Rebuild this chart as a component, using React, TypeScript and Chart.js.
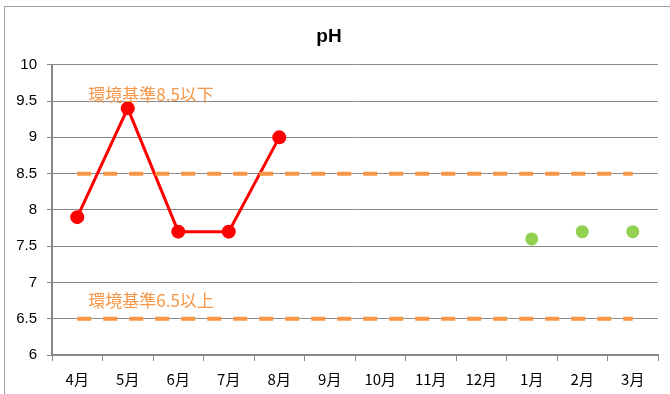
import React, { useEffect, useRef } from "react";
import { Chart, registerables } from "chart.js";

Chart.register(...registerables);

const months = ["4月", "5月", "6月", "7月", "8月", "9月", "10月", "11月", "12月", "1月", "2月", "3月"];
const phSeriesA = [7.9, 9.4, 7.7, 7.7, 9.0, null, null, null, null, null, null, null];
const phSeriesB = [null, null, null, null, null, null, null, null, null, 7.6, 7.7, 7.7];
const upperLimit = [8.5, 8.5, 8.5, 8.5, 8.5, 8.5, 8.5, 8.5, 8.5, 8.5, 8.5, 8.5];
const lowerLimit = [6.5, 6.5, 6.5, 6.5, 6.5, 6.5, 6.5, 6.5, 6.5, 6.5, 6.5, 6.5];
const limitLabels = ["環境基準8.5以下", "環境基準6.5以上"];
const limitLabelValues = [9.59, 6.75];

const ORANGE = "#f79646";

const labelPlugin = {
  id: "limitLabels",
  afterDatasetsDraw(chart: any) {
    const { ctx, scales } = chart;
    const x0 = scales.x.getPixelForValue(0);
    ctx.save();
    ctx.fillStyle = ORANGE;
    ctx.font = "17px 'Noto Sans CJK JP', sans-serif";
    ctx.textAlign = "left";
    ctx.textBaseline = "middle";
    limitLabels.forEach((t, i) => {
      ctx.fillText(t, x0 + 11, scales.y.getPixelForValue(limitLabelValues[i]));
    });
    ctx.restore();
  },
};

export default function App() {
  const ref = useRef<HTMLCanvasElement>(null);
  useEffect(() => {
    const chart = new Chart(ref.current!, {
      type: "line",
      data: {
        labels: months,
        datasets: [
          {
            data: upperLimit,
            borderColor: ORANGE,
            borderWidth: 4,
            borderDash: [14, 12],
            pointRadius: 0,
            order: 0,
          },
          {
            data: lowerLimit,
            borderColor: ORANGE,
            borderWidth: 4,
            borderDash: [14, 12],
            pointRadius: 0,
            order: 0,
          },
          {
            data: phSeriesA,
            borderColor: "#ff0000",
            backgroundColor: "#ff0000",
            borderWidth: 3,
            pointRadius: 7,
            pointBorderWidth: 0,
            order: 1,
          },
          {
            data: phSeriesB,
            borderColor: "#92d050",
            backgroundColor: "#92d050",
            showLine: false,
            pointRadius: 6.5,
            pointBorderWidth: 0,
            order: 1,
          },
        ],
      },
      options: {
        responsive: false,
        animation: false,
        layout: { padding: { left: 0, right: 12, top: 0, bottom: 0 } },
        plugins: {
          legend: { display: false },
          tooltip: { enabled: false },
          title: {
            display: true,
            text: "pH",
            color: "#000",
            font: { size: 19, weight: "bold", family: "'Liberation Sans', Arial, sans-serif" },
            padding: { top: 25, bottom: 17 },
          },
        },
        scales: {
          x: {
            offset: true,
            grid: {
              offset: true,
              drawOnChartArea: false,
              tickLength: 6,
              color: "#888",
            },
            border: { color: "#888", width: 2 },
            ticks: {
              color: "#000",
              padding: 9,
              maxRotation: 0,
              font: { size: 15, family: "'Noto Sans CJK JP', sans-serif" },
            },
            afterFit: (s: any) => {
              s.height = 39;
            },
          },
          y: {
            min: 6,
            max: 10,
            ticks: {
              stepSize: 0.5,
              color: "#000",
              padding: 10,
              font: { size: 15, family: "'Liberation Sans', Arial, sans-serif" },
              callback: (v: any) => String(Number(v)),
            },
            grid: { color: "#8a8a8a", tickLength: 5, lineWidth: 1 },
            border: { color: "#888", width: 2 },
            afterFit: (s: any) => {
              s.width = 52;
            },
          },
        },
      },
      plugins: [labelPlugin],
    });
    return () => chart.destroy();
  }, []);
  return (
    <div style={{ position: "absolute", left: 0, top: 0, width: 670, height: 394, background: "#fff" }}>
      <canvas ref={ref} width={670} height={394} style={{ position: "absolute", left: 0, top: 0 }} />
      <div
        style={{
          position: "absolute",
          left: 4,
          top: 6,
          width: 666,
          height: 388,
          borderTop: "1px solid #a0a0a0",
          borderLeft: "1px solid #a0a0a0",
          pointerEvents: "none",
          zIndex: 2,
          boxSizing: "border-box",
        }}
      />
    </div>
  );
}
